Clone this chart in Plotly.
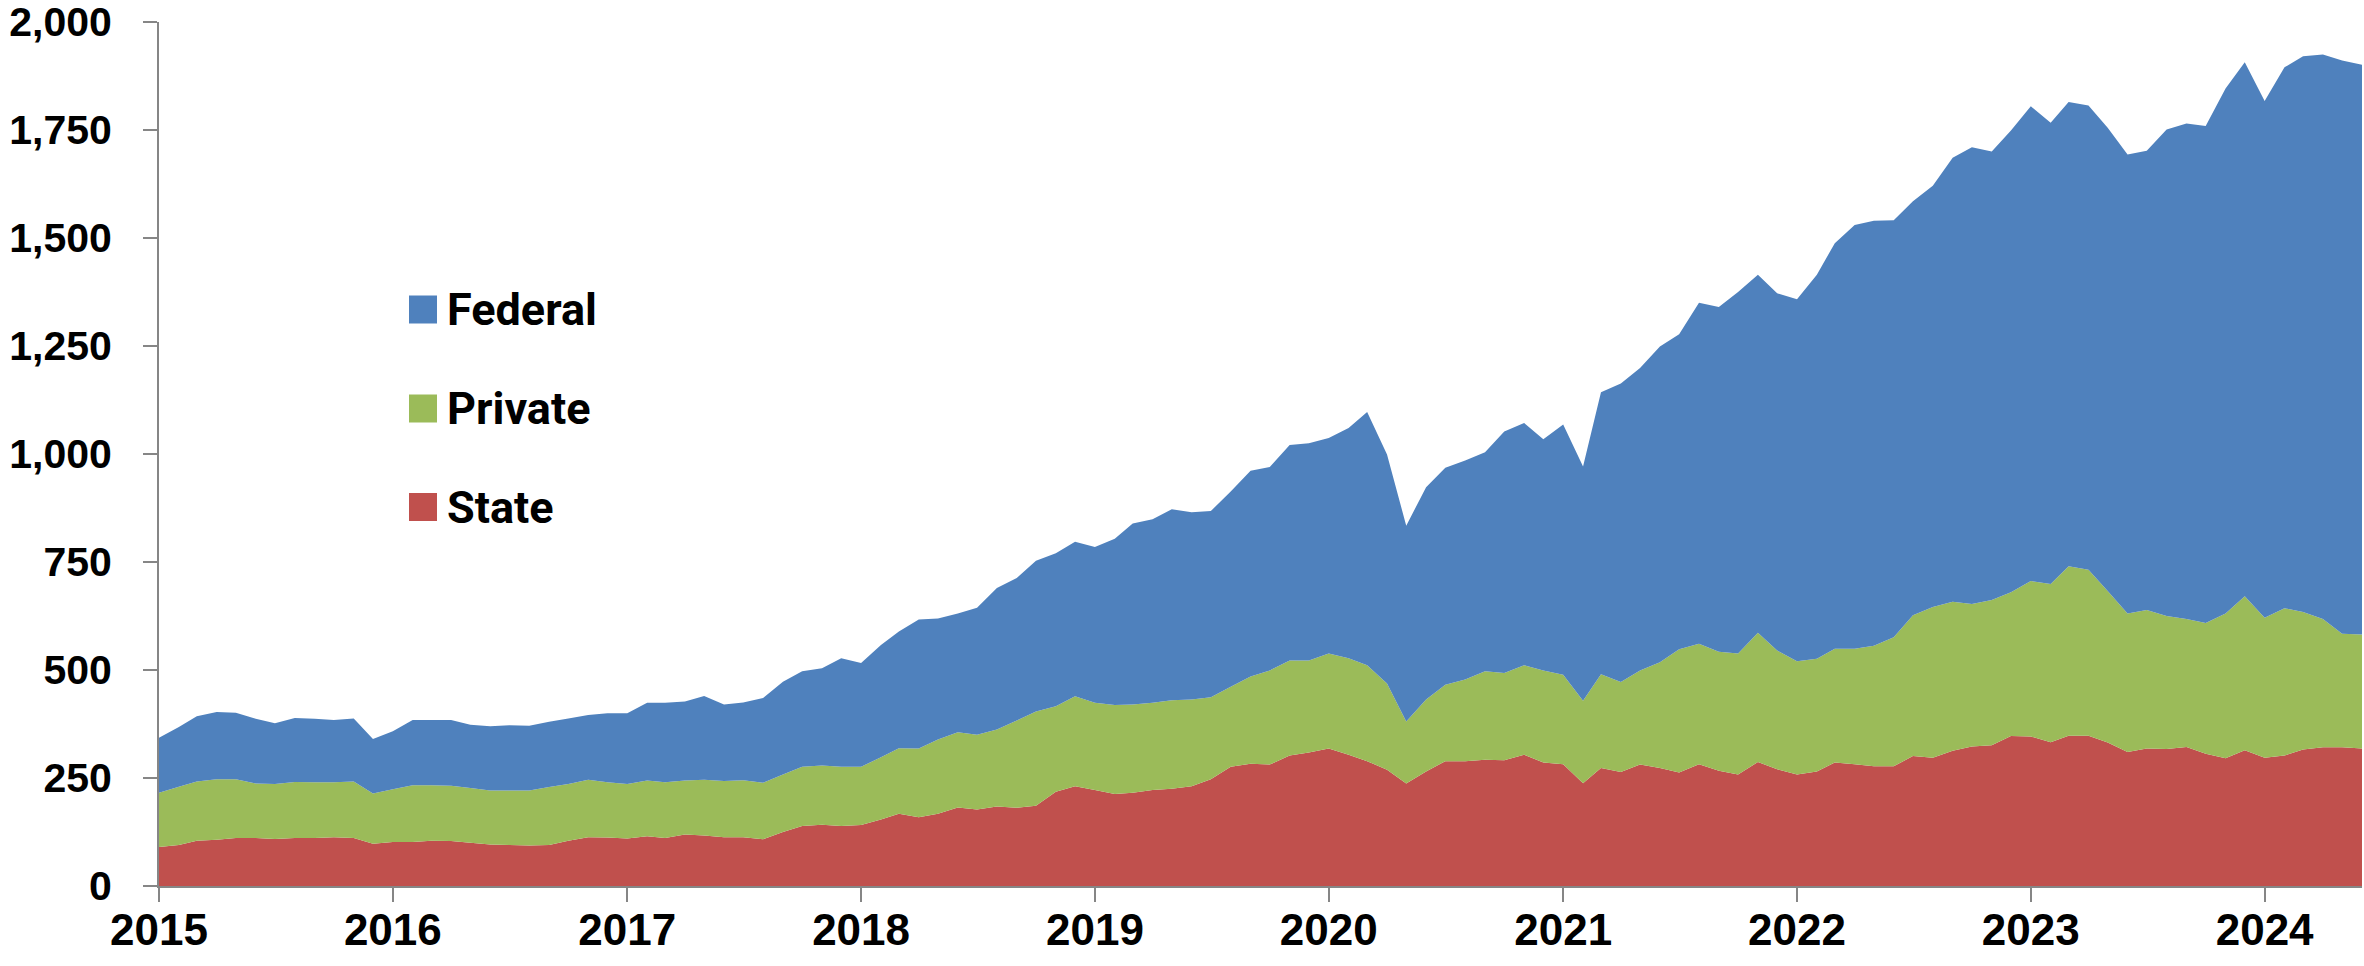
import pandas as pd
import plotly.graph_objects as go

# Monthly values, Jan 2015 - Jun 2024
months = pd.date_range("2015-01-01", periods=114, freq="MS")

state = [
    90, 95, 105, 107, 111, 111, 109, 111, 111, 113, 111, 98,
    102, 102, 105, 104, 100, 96, 95, 94, 95, 105, 113, 112,
    110, 115, 111, 119, 117, 113, 113, 108, 125, 139, 142, 139,
    141, 154, 167, 159, 167, 182, 177, 184, 181, 186, 218, 231,
    222, 213, 216, 222, 225, 231, 247, 276, 283, 281, 302, 309,
    318, 304, 289, 269, 237, 265, 289, 289, 292, 291, 304, 286,
    282, 238, 273, 264, 281, 273, 263, 282, 267, 258, 287, 270,
    258, 265, 286, 282, 277, 277, 301, 297, 313, 323, 326, 347,
    346, 333, 348, 348, 332, 310, 318, 317, 322, 306, 296, 314,
    297, 302, 316, 321, 321, 318,
]
private = [
    126, 135, 137, 140, 136, 126, 127, 130, 129, 127, 131, 116,
    122, 131, 128, 128, 127, 125, 126, 127, 134, 131, 133, 128,
    126, 129, 129, 125, 129, 130, 132, 131, 133, 137, 137, 137,
    135, 144, 152, 159, 172, 174, 173, 178, 202, 218, 198, 208,
    202, 206, 204, 202, 205, 201, 190, 185, 202, 218, 220, 213,
    220, 223, 222, 200, 144, 167, 177, 189, 205, 202, 207, 213,
    207, 191, 217, 208, 218, 245, 285, 279, 275, 280, 299, 275,
    262, 261, 263, 267, 279, 299, 326, 349, 345, 330, 336, 333,
    360, 366, 392, 384, 351, 321, 321, 308, 296, 303, 335, 357,
    324, 341, 318, 297, 263, 264,
]
federal = [
    127, 138, 151, 156, 154, 150, 141, 148, 147, 144, 146, 126,
    134, 151, 151, 152, 146, 149, 151, 150, 151, 152, 150, 160,
    164, 180, 184, 183, 194, 177, 180, 196, 215, 221, 225, 251,
    240, 260, 270, 299, 280, 275, 294, 328, 330, 349, 354, 358,
    361, 385, 419, 425, 442, 433, 431, 452, 476, 471, 499, 503,
    499, 533, 586, 530, 453, 491, 502, 507, 507, 559, 561, 535,
    579, 542, 653, 691, 700, 731, 729, 789, 798, 837, 829, 827,
    838, 889, 939, 981, 984, 965, 958, 975, 1028, 1057, 1038, 1069,
    1099, 1068, 1075, 1075, 1072, 1062, 1063, 1126, 1147, 1150, 1215, 1236,
    1196, 1252, 1287, 1307, 1327, 1319,
]

series_names = ["State", "Private", "Federal"]
series_values = [state, private, federal]
series_colors = ["#C0504D", "#9BBB59", "#4F81BD"]

year_ticks = [f"{y}-01-01" for y in range(2015, 2025)]
year_labels = [str(y) for y in range(2015, 2025)]
y_ticks = list(range(0, 2001, 250))

# Body margin is removed in the page, so the figure fills the 2364x966 window
W, H = 2364, 966
L, R, T, B = 159, 2, 22, 80
plot_w = W - L - R
plot_h = H - T - B

fig = go.Figure()
for name, vals, col in zip(series_names, series_values, series_colors):
    fig.add_trace(go.Scatter(
        x=months, y=vals, name=name, stackgroup="one", mode="none",
        fill="tonexty", fillcolor=col, showlegend=False,
        hovertemplate="%{x|%b %Y}: %{y}<extra>" + name + "</extra>",
    ))

axis_col = "#868686"
x_font = dict(family="Liberation Sans, Arial", size=44, color="black", weight="bold")
y_font = dict(family="Liberation Sans, Arial", size=41, color="black", weight="bold")

fig.update_xaxes(
    type="date", range=["2015-01-01", "2024-06-01"],
    tickmode="array", tickvals=year_ticks, ticktext=year_labels,
    ticks="outside", ticklen=14, tickwidth=2, tickcolor=axis_col,
    showline=True, linecolor=axis_col, linewidth=2,
    showgrid=False, zeroline=False, tickfont=x_font, automargin=False,
    ticklabelstandoff=-10, ticklabeloverflow="allow",
)
fig.update_yaxes(
    range=[0, 2000], tickmode="array", tickvals=y_ticks,
    tickformat=",", ticks="outside", ticklen=14, tickwidth=2, tickcolor=axis_col,
    showline=True, linecolor=axis_col, linewidth=2,
    showgrid=False, zeroline=False, tickfont=y_font, ticklabelstandoff=23,
    automargin=False, ticklabeloverflow="allow",
)

# Legend drawn as swatches + labels (screen pixel positions -> paper coords)
def px_x(x):
    return (x - L) / plot_w

def px_y(y):
    return (H - B - y) / plot_h

legend_items = [("Federal", "#4F81BD", 309.5), ("Private", "#9BBB59", 408.5), ("State", "#C0504D", 507)]
shapes, annotations = [], []
for label, col, cy in legend_items:
    shapes.append(dict(type="rect", xref="paper", yref="paper",
                       x0=px_x(409), x1=px_x(437), y0=px_y(cy + 14), y1=px_y(cy - 14),
                       fillcolor=col, line=dict(width=0)))
    annotations.append(dict(xref="paper", yref="paper", x=px_x(445), y=px_y(cy),
                            xanchor="left", yanchor="middle", showarrow=False, text=label,
                            font=dict(family="Roboto, Liberation Sans", size=45,
                                      color="black", weight="bold")))

fig.update_layout(
    width=W, height=H, autosize=False,
    margin=dict(l=L, r=R, t=T, b=B, pad=0, autoexpand=False),
    paper_bgcolor="white", plot_bgcolor="white",
    shapes=shapes, annotations=annotations,
    showlegend=False,
)

fig.write_html(
    "out.html",
    config={"displayModeBar": False},
    post_script="document.body.style.margin='0';document.body.style.overflow='hidden';",
)
